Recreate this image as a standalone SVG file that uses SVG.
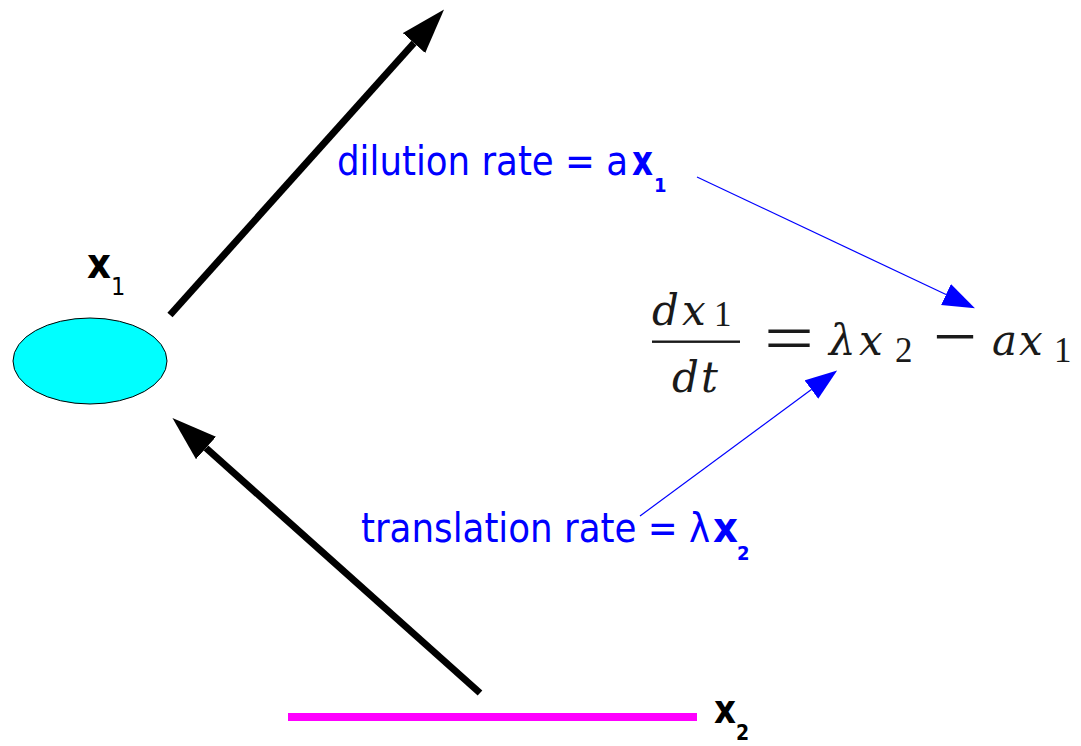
<svg xmlns="http://www.w3.org/2000/svg" width="1081" height="746" viewBox="0 0 1081 746">
<defs>
<style>
.blk{stroke:#000;stroke-width:7;fill:none}
.blu{stroke:#0000ff;stroke-width:1.2;fill:none}
.lbl{font-family:"DejaVu Sans Condensed","DejaVu Sans",sans-serif;fill:#0000ff}
.bx{font-family:"DejaVu Sans Condensed","DejaVu Sans",sans-serif;font-weight:bold}
.mi{font-family:"DejaVu Serif",serif;font-style:italic;fill:#1a1a1a}
.mn{font-family:"Liberation Serif",serif;fill:#1a1a1a}
</style>
<marker id="ahK" markerUnits="userSpaceOnUse" viewBox="0 0 46 30" markerWidth="46" markerHeight="30" refX="0" refY="15" orient="auto">
<path d="M0,0 L45,15 L0,30 Z" fill="#000"/>
</marker>
<marker id="ahB" markerUnits="userSpaceOnUse" viewBox="0 0 33 24" markerWidth="33" markerHeight="24" refX="0" refY="11.5" orient="auto">
<path d="M0,0 L32,11.5 L0,23 Z" fill="#0000ff"/>
</marker>
</defs>
<rect width="1081" height="746" fill="#fff"/>
<g id="connectors">
<line class="blk" x1="170" y1="315" x2="414" y2="43" marker-end="url(#ahK)"/>
<line class="blk" x1="480" y1="693" x2="206" y2="448" marker-end="url(#ahK)"/>
<line class="blu" x1="697" y1="177" x2="946" y2="294.5" marker-end="url(#ahB)"/>
<line class="blu" x1="640" y1="516" x2="811.4" y2="389.6" marker-end="url(#ahB)"/>
</g>
<g id="x1">
<ellipse cx="90" cy="361" rx="77" ry="43" fill="#00ffff" stroke="#000" stroke-width="1"/>
<text class="bx" x="87" y="278" font-size="42" textLength="24" lengthAdjust="spacingAndGlyphs">x</text>
<text x="111" y="295" font-size="25" font-family="DejaVu Sans Condensed, DejaVu Sans, sans-serif">1</text>
</g>
<g id="x2">
<line x1="288" y1="717" x2="697" y2="717" stroke="#ff00ff" stroke-width="8"/>
<text class="bx" x="714" y="723" font-size="40" textLength="22" lengthAdjust="spacingAndGlyphs">x</text>
<text class="bx" x="736" y="740" font-size="21">2</text>
</g>
<g id="dilution">
<text class="lbl" x="337" y="175" font-size="41" textLength="291" lengthAdjust="spacingAndGlyphs">dilution rate = a</text>
<text class="lbl bx" x="632" y="175" font-size="42" textLength="21" lengthAdjust="spacingAndGlyphs">x</text>
<text class="lbl bx" x="654" y="192" font-size="20">1</text>
</g>
<g id="translation">
<text class="lbl" x="361" y="542" font-size="41" textLength="349" lengthAdjust="spacingAndGlyphs">translation rate = λ</text>
<text class="lbl bx" x="713" y="542" font-size="42" textLength="25" lengthAdjust="spacingAndGlyphs">x</text>
<text class="lbl bx" x="737" y="560" font-size="20">2</text>
</g>
<g id="equation">
<text class="mi" x="652" y="325" font-size="42">d</text>
<text class="mi" x="682" y="325" font-size="42">x</text>
<text class="mn" x="714" y="326" font-size="35">1</text>
<rect x="652" y="340.5" width="88" height="2.4" fill="#1a1a1a"/>
<text class="mi" x="672" y="392" font-size="42">d</text>
<text class="mi" x="701" y="392" font-size="42">t</text>
<text class="mn" x="764" y="362" font-size="70" textLength="50" lengthAdjust="spacingAndGlyphs">=</text>
<text class="mi" x="829" y="355" font-size="42">λ</text>
<text class="mi" x="859" y="355" font-size="42">x</text>
<text class="mn" x="895" y="362" font-size="35">2</text>
<text class="mn" x="933" y="360" font-size="70" textLength="44" lengthAdjust="spacingAndGlyphs">−</text>
<text class="mi" x="992" y="355" font-size="42">a</text>
<text class="mi" x="1019" y="355" font-size="42">x</text>
<text class="mn" x="1054" y="362" font-size="35">1</text>
</g>
</svg>
